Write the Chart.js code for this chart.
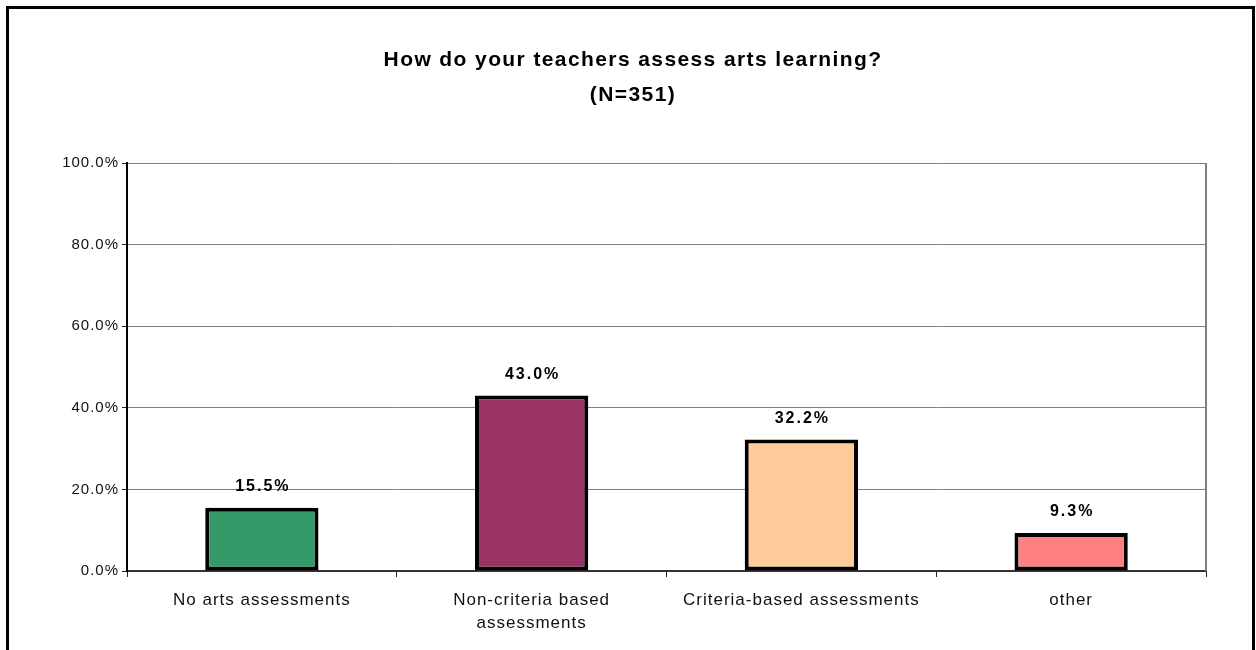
<!DOCTYPE html>
<html>
<head>
<meta charset="utf-8">
<script src="https://cdn.jsdelivr.net/npm/chart.js@4/dist/chart.umd.min.js"></script>
<style>
  html, body { margin: 0; padding: 0; background: #fff; }
  #wrap { width: 1256px; height: 650px; }
</style>
</head>
<body>
<div id="wrap"><canvas id="chart" width="1256" height="650"></canvas></div>
<script>
// chart data
const categories = ['No arts assessments', ['Non-criteria based', 'assessments'], 'Criteria-based assessments', 'other'];
const shares = [15.5, 43.0, 32.2, 9.3];
const barColors = ['#339966', '#993366', '#FFCC99', '#FF8080'];
const titleLines = ['How do your teachers assess arts learning?', '(N=351)'];

const FONT = 'Arial, "Liberation Sans", sans-serif';

// frame, title, right border and value labels
const decorations = {
    id: 'decorations',
    beforeDraw(chart) {
        const ctx = chart.ctx;
        ctx.fillStyle = '#fff';
        ctx.fillRect(0, 0, chart.width, chart.height);
        // the original axis text is spaced out a little
        ctx.letterSpacing = '1px';
    },
    afterDraw(chart) {
        const ctx = chart.ctx;
        const area = chart.chartArea;
        ctx.save();

        // outer frame
        ctx.strokeStyle = '#000';
        ctx.lineWidth = 3;
        ctx.strokeRect(7.5, 7.5, 1246, 660);

        // plot area right edge
        ctx.strokeStyle = '#808080';
        ctx.lineWidth = 2;
        ctx.beginPath();
        ctx.moveTo(area.right, area.top);
        ctx.lineTo(area.right, area.bottom);
        ctx.stroke();

        // title
        ctx.fillStyle = '#000';
        ctx.textAlign = 'center';
        ctx.textBaseline = 'middle';
        ctx.letterSpacing = '1.4px';
        ctx.font = 'bold 21px ' + FONT;
        ctx.fillText(titleLines[0], 633, 60);
        ctx.fillText(titleLines[1], 633, 95);

        // value labels
        ctx.font = 'bold 16px ' + FONT;
        ctx.letterSpacing = '2px';
        ctx.textBaseline = 'middle';
        const meta = chart.getDatasetMeta(0);
        meta.data.forEach((bar, i) => {
            ctx.fillText(shares[i].toFixed(1) + '%', bar.x + 1, bar.y - 21);
        });
        ctx.restore();
    }
};

new Chart(document.getElementById('chart'), {
    type: 'bar',
    data: {
        labels: categories,
        datasets: [{
            data: shares,
            backgroundColor: barColors,
            borderColor: '#000',
            borderWidth: 4,
            borderSkipped: false,
            categoryPercentage: 1,
            barPercentage: 0.42
        }]
    },
    options: {
        responsive: false,
        animation: false,
        layout: { padding: { top: 163, right: 50, left: 0, bottom: 0 } },
        plugins: {
            legend: { display: false },
            tooltip: { enabled: false }
        },
        scales: {
            x: {
                afterFit(scale) { scale.height = 79; },
                grid: {
                    display: true,
                    drawOnChartArea: false,
                    offset: true,
                    tickLength: 6,
                    tickColor: '#222',
                    tickWidth: 1
                },
                border: { color: '#333', width: 2 },
                ticks: {
                    color: '#111',
                    padding: 11,
                    maxRotation: 0,
                    autoSkip: false,
                    font: { family: FONT, size: 17, lineHeight: 1.4 }
                }
            },
            y: {
                min: 0,
                max: 100,
                afterFit(scale) { scale.width = 127; },
                grid: {
                    color: '#808080',
                    lineWidth: 1,
                    tickLength: 5,
                    tickColor: '#222'
                },
                border: { color: '#000', width: 2 },
                ticks: {
                    stepSize: 20,
                    color: '#111',
                    padding: 3,
                    font: { family: FONT, size: 15 },
                    callback: v => v.toFixed(1) + '%'
                }
            }
        }
    },
    plugins: [decorations]
});
</script>
</body>
</html>
